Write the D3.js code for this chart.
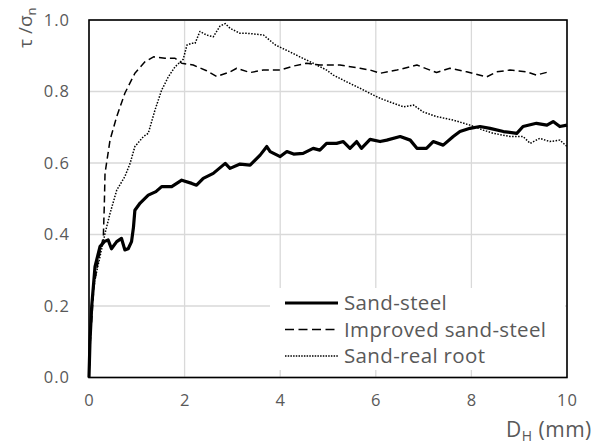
<!DOCTYPE html>
<html>
<head>
<meta charset="utf-8">
<script src="https://cdn.jsdelivr.net/npm/d3@7"></script>
<style>
  html, body { margin: 0; padding: 0; background: #fff; }
  svg { display: block; }
  text { font-family: "Open Sans", "Noto Sans", sans-serif; fill: #595959; }
</style>
</head>
<body>
<svg id="chart" width="597" height="445"></svg>
<script>
// values, [D_H (mm), tau/sigma_n]
var sandSteel = [[0,0],[0.02,0.1],[0.056,0.198],[0.126,0.31],[0.23,0.366],[0.32,0.38],[0.40,0.385],[0.47,0.36],[0.58,0.38],[0.68,0.389],[0.75,0.357],[0.82,0.36],[0.89,0.38],[0.93,0.42],[0.96,0.468],[1.07,0.488],[1.24,0.51],[1.40,0.52],[1.52,0.534],[1.73,0.534],[1.94,0.552],[2.15,0.543],[2.25,0.538],[2.39,0.557],[2.60,0.571],[2.85,0.599],[2.95,0.585],[3.16,0.597],[3.37,0.594],[3.58,0.622],[3.72,0.646],[3.79,0.632],[4.0,0.618],[4.14,0.632],[4.28,0.625],[4.48,0.627],[4.69,0.641],[4.83,0.636],[4.97,0.655],[5.18,0.655],[5.32,0.66],[5.46,0.641],[5.60,0.66],[5.70,0.641],[5.88,0.666],[6.09,0.66],[6.23,0.664],[6.51,0.674],[6.72,0.664],[6.86,0.641],[7.06,0.641],[7.20,0.66],[7.41,0.65],[7.62,0.674],[7.76,0.688],[7.97,0.697],[8.18,0.702],[8.39,0.697],[8.67,0.688],[8.95,0.683],[9.08,0.702],[9.36,0.711],[9.58,0.706],[9.71,0.716],[9.85,0.702],[10.0,0.706]];

var improvedSteel = [[0,0],[0.03,0.105],[0.1,0.25],[0.195,0.329],[0.30,0.394],[0.32,0.48],[0.335,0.571],[0.44,0.664],[0.58,0.73],[0.75,0.795],[0.96,0.851],[1.17,0.883],[1.35,0.897],[1.59,0.893],[1.80,0.893],[1.94,0.879],[2.18,0.874],[2.46,0.858],[2.67,0.842],[2.95,0.855],[3.09,0.865],[3.37,0.853],[3.65,0.86],[4.0,0.86],[4.27,0.871],[4.55,0.879],[4.83,0.874],[5.25,0.874],[5.67,0.865],[5.88,0.86],[6.09,0.851],[6.44,0.86],[6.86,0.874],[7.27,0.853],[7.55,0.865],[7.90,0.855],[8.32,0.841],[8.53,0.855],[8.81,0.86],[9.16,0.855],[9.36,0.846],[9.62,0.855]];

var realRoot = [[0,0],[0.04,0.15],[0.09,0.254],[0.23,0.338],[0.335,0.403],[0.44,0.459],[0.58,0.524],[0.75,0.562],[0.86,0.599],[0.96,0.646],[1.14,0.674],[1.24,0.683],[1.38,0.748],[1.52,0.804],[1.66,0.841],[1.80,0.869],[1.97,0.89],[2.05,0.93],[2.15,0.935],[2.22,0.935],[2.32,0.968],[2.46,0.958],[2.60,0.953],[2.74,0.983],[2.85,0.99],[2.95,0.977],[3.02,0.972],[3.16,0.963],[3.30,0.963],[3.65,0.958],[3.90,0.93],[4.17,0.913],[4.41,0.897],[4.69,0.879],[4.97,0.86],[5.11,0.846],[5.39,0.827],[5.67,0.809],[5.95,0.79],[6.09,0.781],[6.37,0.767],[6.58,0.757],[6.79,0.762],[6.99,0.743],[7.27,0.73],[7.62,0.72],[7.97,0.706],[8.25,0.692],[8.46,0.683],[8.81,0.674],[9.08,0.674],[9.23,0.655],[9.43,0.669],[9.64,0.66],[9.85,0.664],[10.0,0.646]];

var xTicks = [0, 2, 4, 6, 8, 10];
var yTicks = [0, 0.2, 0.4, 0.6, 0.8, 1.0];
var seriesNames = ["Sand-steel", "Improved sand-steel", "Sand-real root"];

var margin = {left: 89, top: 20, right: 30, bottom: 67.5};
var width = 597 - margin.left - margin.right;
var height = 445 - margin.top - margin.bottom;

var svg = d3.select('#chart');
var g = svg.append('g').attr('transform', 'translate(' + margin.left + ',' + margin.top + ')');

var x = d3.scaleLinear().domain([0, 10]).range([0, width]);
var y = d3.scaleLinear().domain([0, 1]).range([height, 0]);

// gridlines
g.append('g').selectAll('line').data(xTicks).enter().append('line')
    .attr('x1', function(d){ return x(d); }).attr('x2', function(d){ return x(d); })
    .attr('y1', 0).attr('y2', height)
    .style('stroke', '#d9d9d9').style('stroke-width', 1.3);
g.append('g').selectAll('line').data(yTicks).enter().append('line')
    .attr('x1', 0).attr('x2', width)
    .attr('y1', function(d){ return y(d); }).attr('y2', function(d){ return y(d); })
    .style('stroke', '#d9d9d9').style('stroke-width', 1.3);

// tick labels
var xAxis = g.append('g').attr('transform', 'translate(0,' + height + ')')
    .call(d3.axisBottom(x).tickValues(xTicks).tickSize(0).tickPadding(17).tickFormat(d3.format('d')));
var yAxis = g.append('g')
    .call(d3.axisLeft(y).tickValues(yTicks).tickSize(0).tickPadding(19).tickFormat(d3.format('.1f')));
[xAxis, yAxis].forEach(function(a){
    a.select('.domain').remove();
    a.selectAll('text').style('font-size', '16.5px').style('fill', '#595959')
        .style('letter-spacing', '1px')
        .style('font-family', '"Open Sans", sans-serif');
});

// series
var line = d3.line().x(function(d){ return x(d[0]); }).y(function(d){ return y(d[1]); });
var styles = [
    {w: 3.2, dash: null},
    {w: 1.5, dash: '7,4'},
    {w: 1.5, dash: '1.5,1.5'}
];
[sandSteel, improvedSteel, realRoot].forEach(function(s, i){
    g.append('path').datum(s)
        .attr('d', line)
        .attr('fill', 'none')
        .style('stroke', '#000')
        .style('stroke-width', styles[i].w)
        .style('stroke-dasharray', styles[i].dash)
        .style('stroke-linejoin', 'round');
});

// legend
var legend = g.append('g').attr('transform', 'translate(' + (270 - margin.left) + ',' + (288 - margin.top) + ')');
legend.append('rect').attr('width', 295).attr('height', 82).attr('fill', '#fff');
seriesNames.forEach(function(name, i){
    var ly = 15 + i * 26.5;
    legend.append('line')
        .attr('x1', 15).attr('x2', 68).attr('y1', ly).attr('y2', ly)
        .style('stroke', '#000')
        .style('stroke-width', i === 0 ? 3 : 1.3)
        .style('stroke-dasharray', i === 1 ? '9,4.5' : (i === 2 ? '1.5,1.2' : null));
    legend.append('text')
        .attr('x', 74).attr('y', ly).attr('dy', '0.36em')
        .style('font-size', '20.5px')
        .style('letter-spacing', '0.35px')
        .text(name);
});

// plot border
g.append('rect').attr('width', width).attr('height', height)
    .attr('fill', 'none').style('stroke', '#000').style('stroke-width', 1.6);

// axis titles
var xt = svg.append('text').attr('x', 506).attr('y', 437).style('font-size', '21px').style('letter-spacing', '0.5px');
xt.append('tspan').text('D');
xt.append('tspan').attr('dy', 4).style('font-size', '14px').text('H');
xt.append('tspan').attr('dy', -4).text(' (mm)');

var yt = svg.append('text').attr('transform', 'translate(32,48) rotate(-90)').style('font-size', '19px');
yt.append('tspan').text('τ /σ');
yt.append('tspan').attr('dy', 4).style('font-size', '13px').text('n');
</script>
</body>
</html>
